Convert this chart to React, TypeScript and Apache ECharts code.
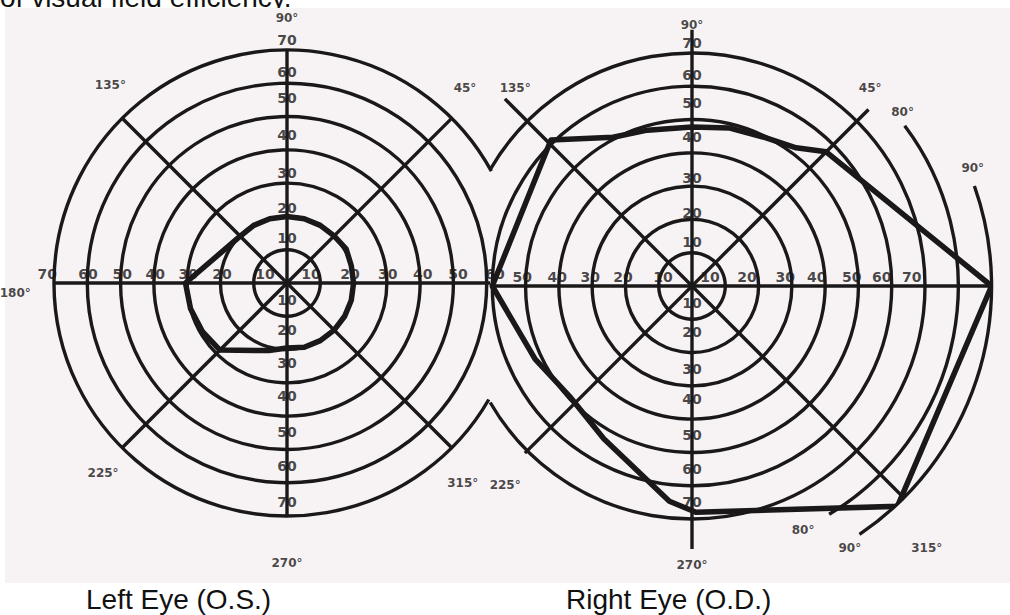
import React, { useEffect, useRef } from "react";
import * as echarts from "echarts";

const INK = "#1a1819";
const PAPER = "#f7f3f4";
const CLEAR = "rgba(0,0,0,0)";

// ---------- isopters: field extent (degrees) per meridian (degrees) ----------
const leftEyeMeridians = [0, 15, 30, 45, 60, 75, 90, 105, 120, 138, 180, 195, 210, 225, 255, 270, 285, 300, 315, 330, 345, 360];
const leftEyeField = [20, 20, 20.5, 20, 20, 20, 20, 20, 20, 20, 30.5, 30, 29.3, 28.5, 21, 19.5, 20, 20, 20, 20, 20, 20];

const rightEyeMeridians = [0, 45, 53, 64.5, 76.5, 90, 106, 118, 134, 180, 205, 222, 240, 264, 271, 313, 360];
const rightEyeField = [90, 57, 52, 49.6, 48.8, 47.8, 48.7, 50.6, 61, 60, 52, 49.5, 53, 65, 68, 90.5, 90];

// ---------- rings ----------
const ringStep = 10;
const leftMaxRing = 70;
const rightMaxRing = 90;
const innerRingsShown = 6; // rings 10..60 are full circles

// partial outer rings: [ring value, from angle, to angle]
const leftOuterArcs = [[70, 28.7, 330]];
const rightOuterArcs = [[70, -150, 150], [80, -59, 37], [90, -56, 19.5]];

// ---------- meridian lines: [angle a, angle b], [length a, length b] ----------
const spokeAngles = [[90, 270], [45, 225], [135, 315], [180, 0]];
const leftSpokeLengths = [[76.5, 79], [76, 71.5], [77, 80.5], [82.3, 61]];
const rightSpokeLengths = [[77, 79], [75, 71], [79.5, 101.5], [60.6, 94]];

// ---------- tick labels ----------
const leftTicksW = ["70", "60", "50", "40", "30", "20", "10"];
const leftTicksWAt = [72, 59.8, 49.5, 39.6, 29.7, 19.5, 6.6];
const leftTicksE = ["10", "20", "30", "40", "50", "60"];
const leftTicksEAt = [7.2, 18.9, 30.3, 40.8, 51.4, 62.5];
const leftTicksN = ["70", "60", "50", "40", "30", "20", "10"];
const leftTicksNAt = [73, 63.3, 55.5, 44.5, 33, 22.5, 13.5];
const leftTicksS = ["10", "20", "30", "40", "50", "60", "70"];
const leftTicksSAt = [5, 14, 24, 34, 44.7, 55, 65.7];

const rightTicksW = ["50", "40", "30", "20", "10"];
const rightTicksWAt = [51, 40.5, 30.6, 20.7, 8.7];
const rightTicksE = ["10", "20", "30", "40", "50", "60", "70"];
const rightTicksEAt = [5.4, 16.5, 28, 37.5, 48, 57, 66];
const rightTicksN = ["70", "60", "50", "40", "30", "20", "10"];
const rightTicksNAt = [73, 63.4, 55, 44.7, 32.4, 22, 13.2];
const rightTicksS = ["10", "20", "30", "40", "50", "60", "70"];
const rightTicksSAt = [5, 13.8, 25, 34, 44.7, 55, 65];

const leftDegLabels = ["90°", "45°", "135°", "180°", "225°", "270°", "315°"];
const leftDegR = [79.5, 79.3, 79.6, 81.7, 79.4, 84, 80];
const leftDegA = [90, 47.6, 131.8, 182.1, 225.9, 270, 311.3];

const rightDegLabels = ["90°", "45°", "80°", "90°", "135°", "225°", "270°", "80°", "90°", "315°"];
const rightDegR = [78.4, 80, 82, 91.5, 79.7, 82, 83.8, 80.5, 91.8, 105.6];
const rightDegA = [90, 48, 39.5, 22.8, 131.8, 226.8, 270, 294.5, 301.1, 311.9];

const titles = ["Left Eye (O.S.)", "Right Eye (O.D.)"];
const caption = "of visual field efficiency.";

// ---------- layout ----------
const LEFT_C = [287, 283];
const RIGHT_C = [692, 286];
const PX_PER_DEG = 233 / 70;
const FONT_NUM = '"DejaVu Sans", "Liberation Sans", sans-serif';
const FONT_TITLE = '"Liberation Sans", Arial, sans-serif';
const GRID_W = 3.4;
const DATA_W = 5.5;

function buildOption() {
  const polar: any[] = [];
  const angleAxis: any[] = [];
  const radiusAxis: any[] = [];
  const series: any[] = [];

  const hiddenAngle = (idx: number, start: number, end?: number) => {
    const a: any = {
      polarIndex: idx,
      type: "value",
      min: 0,
      max: 360,
      startAngle: start,
      clockwise: false,
      axisLine: { show: false },
      axisTick: { show: false },
      axisLabel: { show: false },
      splitLine: { show: false },
    };
    if (end !== undefined) a.endAngle = end;
    return a;
  };

  const addPolar = (center: number[], maxRing: number, interval: number, colors: string[], start: number, end?: number) => {
    const idx = polar.length;
    polar.push({ center, radius: maxRing * PX_PER_DEG });
    angleAxis.push(hiddenAngle(idx, start, end));
    radiusAxis.push({
      polarIndex: idx,
      type: "value",
      min: 0,
      max: maxRing,
      interval,
      axisLine: { show: false },
      axisTick: { show: false },
      axisLabel: { show: false },
      splitLine: { show: true, lineStyle: { color: colors, width: GRID_W } },
    });
    return idx;
  };

  const ringColors = (maxRing: number) => {
    const n = maxRing / ringStep + 1;
    const arr: string[] = [];
    for (let i = 0; i < n; i++) arr.push(i <= innerRingsShown ? INK : CLEAR);
    return arr;
  };

  const leftIdx = addPolar(LEFT_C, leftMaxRing, ringStep, ringColors(leftMaxRing), 0);
  leftOuterArcs.forEach(([ring, a0, a1]) => addPolar(LEFT_C, ring, ring, [CLEAR, INK], a0, a1));
  const rightIdx = addPolar(RIGHT_C, rightMaxRing, ringStep, ringColors(rightMaxRing), 0);
  rightOuterArcs.forEach(([ring, a0, a1]) => addPolar(RIGHT_C, ring, ring, [CLEAR, INK], a0, a1));

  const lineBase = {
    type: "line",
    coordinateSystem: "polar",
    symbol: "none",
    clip: false,
    silent: true,
    animation: false,
  };

  const addSpokes = (idx: number, lengths: number[][]) => {
    spokeAngles.forEach((ang, i) => {
      series.push({
        ...lineBase,
        polarIndex: idx,
        z: 3,
        lineStyle: { color: INK, width: GRID_W },
        data: [
          [lengths[i][0], ang[0]],
          [lengths[i][1], ang[1]],
        ],
      });
    });
  };
  addSpokes(leftIdx, leftSpokeLengths);
  addSpokes(rightIdx, rightSpokeLengths);

  series.push({
    ...lineBase,
    name: "Left Eye (O.S.)",
    polarIndex: leftIdx,
    z: 5,
    lineStyle: { color: INK, width: DATA_W, join: "round", cap: "round" },
    data: leftEyeField.map((r, i) => [r, leftEyeMeridians[i]]),
  });
  series.push({
    ...lineBase,
    name: "Right Eye (O.D.)",
    polarIndex: rightIdx,
    z: 5,
    lineStyle: { color: INK, width: DATA_W, join: "round", cap: "round" },
    data: rightEyeField.map((r, i) => [r, rightEyeMeridians[i]]),
  });

  const addLabels = (idx: number, texts: string[], rs: number[], angs: number[] | number, fontSize: number, offset: number[]) => {
    series.push({
      type: "scatter",
      coordinateSystem: "polar",
      polarIndex: idx,
      symbol: "circle",
      symbolSize: 1,
      clip: false,
      silent: true,
      z: 6,
      itemStyle: { color: CLEAR },
      label: {
        show: true,
        position: "inside",
        formatter: "{b}",
        color: INK,
        fontSize,
        fontWeight: "bold",
        fontFamily: FONT_NUM,
        offset,
      },
      data: texts.map((t, i) => ({
        name: t,
        value: [rs[i], Array.isArray(angs) ? angs[i] : angs],
      })),
    });
  };

  const HO = [0, -9];
  const VO = [0, 0];
  addLabels(leftIdx, leftTicksW, leftTicksWAt, 180, 14, HO);
  addLabels(leftIdx, leftTicksE, leftTicksEAt, 0, 14, HO);
  addLabels(leftIdx, leftTicksN, leftTicksNAt, 90, 14, VO);
  addLabels(leftIdx, leftTicksS, leftTicksSAt, 270, 14, VO);
  addLabels(rightIdx, rightTicksW, rightTicksWAt, 180, 14, HO);
  addLabels(rightIdx, rightTicksE, rightTicksEAt, 0, 14, HO);
  addLabels(rightIdx, rightTicksN, rightTicksNAt, 90, 14, VO);
  addLabels(rightIdx, rightTicksS, rightTicksSAt, 270, 14, VO);
  addLabels(leftIdx, leftDegLabels, leftDegR, leftDegA, 12, VO);
  addLabels(rightIdx, rightDegLabels, rightDegR, rightDegA, 12, VO);

  return {
    animation: false,
    polar,
    angleAxis,
    radiusAxis,
    series,
    graphic: [
      {
        type: "text",
        z: -20,
        x: 0,
        y: -2.7,
        style: {
          text: caption,
          fontSize: 28,
          fontFamily: FONT_TITLE,
          fill: "#111",
          align: "left",
          verticalAlign: "middle",
        },
      },
      {
        type: "rect",
        z: -10,
        shape: { x: 5, y: 8, width: 1005, height: 575 },
        style: { fill: PAPER },
      },
      {
        type: "text",
        x: 86,
        y: 599,
        style: {
          text: titles[0],
          fontSize: 28,
          fontFamily: FONT_TITLE,
          fill: "#111",
          align: "left",
          verticalAlign: "middle",
        },
      },
      {
        type: "text",
        x: 566,
        y: 599,
        style: {
          text: titles[1],
          fontSize: 28,
          fontFamily: FONT_TITLE,
          fill: "#111",
          align: "left",
          verticalAlign: "middle",
        },
      },
    ],
  };
}

export default function App() {
  const ref = useRef<HTMLDivElement>(null);
  useEffect(() => {
    if (!ref.current) return;
    const chart = echarts.init(ref.current, undefined, { renderer: "svg" });
    chart.setOption(buildOption() as any);
    return () => chart.dispose();
  }, []);
  return (
    <div
      ref={ref}
      style={{ position: "fixed", left: 0, top: 0, width: 1010, height: 615, background: "#ffffff" }}
    />
  );
}
